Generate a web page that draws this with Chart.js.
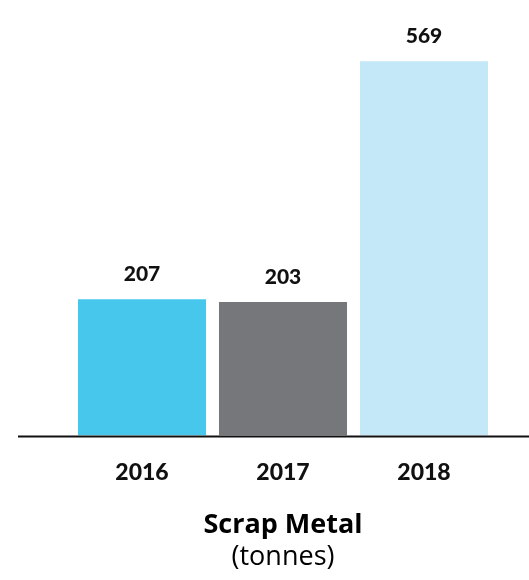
<!DOCTYPE html>
<html>
<head>
<meta charset="utf-8">
<script src="https://cdn.jsdelivr.net/npm/chart.js@4"></script>
<style>
  html, body { margin: 0; padding: 0; background: #fff; }
  #wrap { width: 529px; height: 580px; }
</style>
</head>
<body>
<div id="wrap"><canvas id="myChart" width="529" height="580"></canvas></div>
<script>
// chart data
const years = ['2016', '2017', '2018'];
const tonnes = [207, 203, 569];
const barColors = ['#48C7EC', '#76777B', '#C5E8F8'];

// value labels above bars + long baseline
const barLabels = {
  id: 'barLabels',
  afterDatasetsDraw(chart) {
    const ctx = chart.ctx;
    const meta = chart.getDatasetMeta(0);
    ctx.save();
    ctx.font = '900 21px Lato';
    ctx.fillStyle = '#111';
    ctx.textAlign = 'center';
    ctx.textBaseline = 'middle';
    meta.data.forEach((bar, i) => {
      ctx.fillText(String(tonnes[i]), bar.x, bar.y - 25);
    });
    // baseline runs past the bars to the right edge
    const y0 = chart.scales.y.getPixelForValue(0);
    ctx.strokeStyle = '#111';
    ctx.lineWidth = 2;
    ctx.beginPath();
    ctx.moveTo(18, y0 + 1);
    ctx.lineTo(chart.width, y0 + 1);
    ctx.stroke();
    ctx.restore();
  }
};

const ctx = document.getElementById('myChart').getContext('2d');
new Chart(ctx, {
  type: 'bar',
  data: {
    labels: years,
    datasets: [{
      data: tonnes,
      backgroundColor: barColors,
      borderWidth: 0,
      barPercentage: 0.908,
      categoryPercentage: 1
    }]
  },
  options: {
    responsive: false,
    animation: false,
    layout: { padding: { left: 71.5, right: 34.5, top: 0, bottom: 9 } },
    scales: {
      x: {
        grid: { display: false },
        border: { display: false },
        ticks: {
          color: '#111',
          font: { family: 'Lato', size: 23, weight: '900' },
          padding: 15
        }
      },
      y: {
        display: false,
        min: 0,
        max: 662
      }
    },
    plugins: {
      legend: { display: false },
      tooltip: { enabled: false },
      title: {
        display: true,
        position: 'bottom',
        weight: 1000,
        text: 'Scrap Metal',
        color: '#000',
        font: { family: 'Open Sans', size: 27, weight: 'bold', lineHeight: 1 },
        padding: { top: 11, bottom: 0 }
      },
      subtitle: {
        display: true,
        position: 'bottom',
        weight: 1500,
        text: '(tonnes)',
        color: '#000',
        font: { family: 'Open Sans', size: 27, weight: 'normal', lineHeight: 1 },
        padding: { top: 5, bottom: 0 }
      }
    }
  },
  plugins: [barLabels]
});
</script>
</body>
</html>
